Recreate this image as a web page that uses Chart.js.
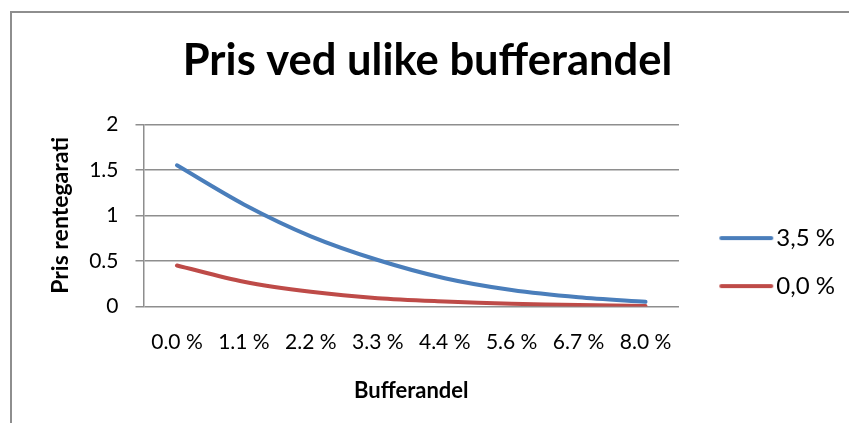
<!DOCTYPE html>
<html>
<head>
<meta charset="utf-8">
<script src="https://cdn.jsdelivr.net/npm/chart.js@4"></script>
<style>
  html, body { margin: 0; padding: 0; background: #fff; overflow: hidden; }
  #frame { position: absolute; left: 10px; top: 11px; width: 900px; height: 500px; border: 2px solid #8e8e8e; }
  #wrap { position: absolute; left: 0; top: 0; width: 849px; height: 423px; }
</style>
</head>
<body>
<div id="frame"></div>
<div id="wrap"><canvas id="myChart"></canvas></div>
<script>
var categories = ['0.0 %', '1.1 %', '2.2 %', '3.3 %', '4.4 %', '5.6 %', '6.7 %', '8.0 %'];
var seriesNames = ['3,5 %', '0,0 %'];
var pris35 = [1.55, 1.12, 0.77, 0.51, 0.31, 0.18, 0.10, 0.05];
var pris00 = [0.45, 0.27, 0.16, 0.09, 0.055, 0.03, 0.015, 0.005];
var yTicks = [0, 0.5, 1, 1.5, 2];

var FONT = 'Lato';
var BLUE = '#4a7ebb';
var RED = '#be4b48';

// legend swatch: a short thick line with round ends, a bit wider than the label box
function swatch(color) {
    var c = document.createElement('canvas');
    c.width = 56;
    c.height = 8;
    var g = c.getContext('2d');
    g.strokeStyle = color;
    g.lineWidth = 4;
    g.lineCap = 'round';
    g.beginPath();
    g.moveTo(3, 4);
    g.lineTo(53, 4);
    g.stroke();
    return c;
}

// work out the right padding so the legend sits where it should
var legendFont = 24, legendPad = 24, legendBox = 36, legendGap = 25.3;
var mctx = document.createElement('canvas').getContext('2d');
mctx.font = legendFont + 'px ' + FONT;
var textW = Math.max.apply(null, seriesNames.map(function (s) { return mctx.measureText(s).width; }));
var legendW = legendPad + legendBox + legendFont / 2 + textW + 10;
var padRight = Math.max(0, 849 - 676.7 - legendGap - legendW);
var padLeft = 6 + padRight;

var ctx = document.getElementById('myChart').getContext('2d');
var myChart = new Chart(ctx, {
    type: 'line',
    data: {
        labels: categories,
        datasets: [{
            label: seriesNames[0],
            data: pris35,
            borderColor: BLUE,
            backgroundColor: BLUE,
            borderWidth: 4,
            borderCapStyle: 'round',
            pointRadius: 0,
            pointStyle: swatch(BLUE),
            tension: 0.3
        }, {
            label: seriesNames[1],
            data: pris00,
            borderColor: RED,
            backgroundColor: RED,
            borderWidth: 4,
            borderCapStyle: 'round',
            pointRadius: 0,
            pointStyle: swatch(RED),
            tension: 0.3
        }]
    },
    options: {
        responsive: true,
        maintainAspectRatio: false,
        animation: false,
        layout: {
            padding: { left: padLeft, right: padRight, top: 0, bottom: 0 }
        },
        plugins: {
            title: {
                display: true,
                text: 'Pris ved ulike bufferandel',
                color: '#000',
                font: { family: FONT, size: 43.5, weight: 'bold', lineHeight: 1.2 },
                padding: { top: 34.9, bottom: 37.3 }
            },
            legend: {
                position: 'right',
                labels: {
                    usePointStyle: true,
                    pointStyleWidth: legendBox,
                    padding: legendPad,
                    color: '#000',
                    font: { family: FONT, size: legendFont }
                },
                title: {
                    display: true,
                    text: ' ',
                    font: { size: 1 },
                    padding: { top: 0, bottom: 100 }
                }
            },
            tooltip: { enabled: false }
        },
        scales: {
            x: {
                offset: true,
                grid: { display: false },
                border: { display: false },
                ticks: {
                    color: '#000',
                    padding: 15,
                    maxRotation: 0,
                    autoSkip: false,
                    font: { family: FONT, size: 21 }
                },
                title: {
                    display: true,
                    text: 'Bufferandel',
                    color: '#000',
                    font: { family: FONT, size: 22, weight: 'bold', lineHeight: 1.2 },
                    padding: { top: 8, bottom: 19 }
                }
            },
            y: {
                min: 0,
                max: 2,
                afterFit: function (scale) { scale.width = 143.5 - padLeft; },
                afterBuildTicks: function (scale) {
                    scale.ticks = yTicks.map(function (v) { return { value: v }; });
                },
                grid: { color: '#8e8e8e', lineWidth: 1.5, tickLength: 8 },
                border: { color: '#8e8e8e', width: 1.5 },
                ticks: {
                    color: '#000',
                    padding: 17,
                    font: { family: FONT, size: 21 },
                    callback: function (v) { return String(v); }
                },
                title: {
                    display: true,
                    text: 'Pris rentegarati',
                    color: '#000',
                    font: { family: FONT, size: 23, weight: 'bold', lineHeight: 1.2 },
                    padding: { top: 61 - padLeft - 13.8, bottom: 10 }
                }
            },
            pad: {
                position: 'right',
                display: true,
                grid: { display: false },
                border: { display: false },
                ticks: { display: false },
                afterFit: function (scale) { scale.width = legendGap; }
            }
        }
    }
});
</script>
</body>
</html>
